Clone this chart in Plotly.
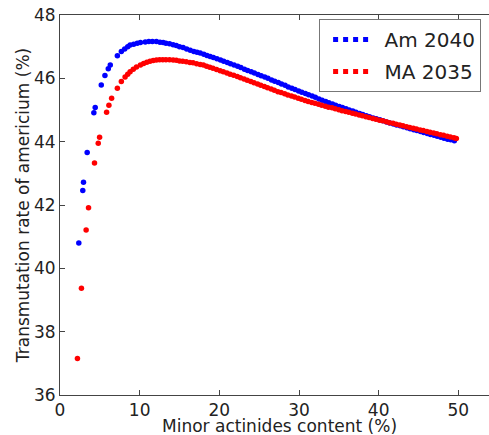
import plotly.graph_objects as go

# ---- data ----
am2040_x = [2.36, 2.86, 2.95, 3.41, 4.25, 4.42, 5.18, 5.64, 6.06, 6.31, 7.20, 7.70, 8.12, 8.50, 8.80,
            9.25, 9.70, 10.10, 10.70, 11.15, 11.60, 12.10, 12.55, 12.95, 13.30, 13.75, 14.20, 14.60,
            15.00, 15.45, 15.90, 16.35, 16.80, 17.20, 17.60, 18.05, 18.45, 18.85, 19.25, 19.70, 20.15,
            20.55, 21.00, 21.40, 21.85, 22.30, 22.70, 23.15, 23.55, 24.00, 24.40, 24.85, 25.25, 25.70,
            26.10, 26.55, 26.95, 27.40, 27.80, 28.25, 28.65, 29.10, 29.50, 29.95, 30.35, 30.80, 31.20,
            31.65, 32.05, 32.50, 32.90, 33.35, 33.75, 34.20, 34.60, 35.05, 35.45, 35.90, 36.30, 36.75,
            37.15, 37.60, 38.00, 38.45, 38.85, 39.30, 39.70, 40.15, 40.55, 41.00, 41.40, 41.85, 42.25,
            42.70, 43.10, 43.55, 43.95, 44.40, 44.80, 45.25, 45.65, 46.10, 46.50, 46.95, 47.35, 47.80,
            48.20, 48.65, 49.05, 49.50]
am2040_y = [40.80, 42.46, 42.72, 43.66, 44.91, 45.08, 45.79, 46.09, 46.30, 46.42, 46.71, 46.85, 46.93,
            47.00, 47.05, 47.08, 47.11, 47.13, 47.15, 47.16, 47.16, 47.16, 47.14, 47.13, 47.11, 47.09,
            47.06, 47.04, 47.00, 46.97, 46.93, 46.89, 46.85, 46.82, 46.80, 46.76, 46.72, 46.69, 46.66,
            46.62, 46.58, 46.54, 46.50, 46.46, 46.42, 46.38, 46.34, 46.29, 46.25, 46.21, 46.17, 46.12,
            46.08, 46.04, 46.00, 45.95, 45.91, 45.87, 45.82, 45.78, 45.73, 45.69, 45.65, 45.60, 45.56,
            45.52, 45.48, 45.44, 45.40, 45.35, 45.31, 45.27, 45.23, 45.19, 45.15, 45.11, 45.08, 45.04,
            45.00, 44.97, 44.93, 44.89, 44.86, 44.82, 44.79, 44.75, 44.72, 44.69, 44.66, 44.62, 44.59,
            44.56, 44.53, 44.50, 44.47, 44.44, 44.41, 44.38, 44.35, 44.32, 44.29, 44.26, 44.23, 44.20,
            44.17, 44.14, 44.11, 44.08, 44.06, 44.03]

ma2035_x = [2.19, 2.69, 3.28, 3.58, 4.33, 4.80, 4.97, 5.85, 6.14, 6.48, 7.20, 7.70, 8.17, 8.50, 8.80,
            9.20, 9.60, 10.10, 10.50, 10.90, 11.30, 11.70, 12.10, 12.50, 12.90, 13.30, 13.75, 14.20,
            14.60, 15.00, 15.40, 15.85, 16.30, 16.70, 17.15, 17.60, 18.00, 18.40, 18.80, 19.20, 19.65,
            20.10, 20.50, 20.95, 21.35, 21.80, 22.25, 22.65, 23.10, 23.50, 23.95, 24.35, 24.80, 25.20,
            25.65, 26.05, 26.50, 26.90, 27.35, 27.75, 28.20, 28.60, 29.05, 29.45, 29.90, 30.30, 30.75,
            31.15, 31.60, 32.00, 32.45, 32.85, 33.30, 33.70, 34.15, 34.55, 35.00, 35.40, 35.85, 36.25,
            36.70, 37.10, 37.55, 37.95, 38.40, 38.80, 39.25, 39.65, 40.10, 40.50, 40.95, 41.35, 41.80,
            42.20, 42.65, 43.05, 43.50, 43.90, 44.35, 44.75, 45.20, 45.60, 46.05, 46.45, 46.90, 47.30,
            47.75, 48.15, 48.60, 49.00, 49.45, 49.75]
ma2035_y = [37.15, 39.37, 41.21, 41.91, 43.33, 43.95, 44.14, 44.93, 45.15, 45.37, 45.69, 45.90, 46.04,
            46.13, 46.21, 46.29, 46.36, 46.42, 46.47, 46.51, 46.54, 46.56, 46.58, 46.59, 46.59, 46.59,
            46.59, 46.58, 46.57, 46.55, 46.54, 46.52, 46.50, 46.49, 46.46, 46.44, 46.42, 46.38, 46.35,
            46.32, 46.28, 46.24, 46.21, 46.17, 46.13, 46.10, 46.06, 46.02, 45.98, 45.94, 45.90, 45.86,
            45.82, 45.78, 45.74, 45.70, 45.66, 45.62, 45.58, 45.55, 45.51, 45.47, 45.44, 45.41, 45.37,
            45.34, 45.30, 45.27, 45.24, 45.21, 45.18, 45.15, 45.12, 45.09, 45.07, 45.04, 45.01, 44.98,
            44.95, 44.93, 44.90, 44.87, 44.84, 44.82, 44.79, 44.76, 44.73, 44.71, 44.68, 44.66, 44.63,
            44.60, 44.58, 44.55, 44.53, 44.50, 44.47, 44.45, 44.42, 44.40, 44.37, 44.35, 44.32, 44.30,
            44.27, 44.25, 44.22, 44.20, 44.17, 44.15, 44.12, 44.10]

x_ticks = [0, 10, 20, 30, 40, 50]
y_ticks = [36, 38, 40, 42, 44, 46, 48]
x_title = "Minor actinides content (%)"
y_title = "Transmutation rate of americium (%)"

series = [("Am 2040", am2040_x, am2040_y, "#0000ff"),
          ("MA 2035", ma2035_x, ma2035_y, "#ff0000")]

FONT = "DejaVu Sans"
fig = go.Figure()
for name, xs, ys, col in series:
    fig.add_trace(go.Scatter(x=xs, y=ys, mode="markers", name=name, showlegend=False,
                             marker=dict(color=col, size=5.5, line=dict(width=0))))
# legend-only entries (dotted look like matplotlib scatterpoints=3)
for name, xs, ys, col in series:
    fig.add_trace(go.Scatter(x=[None], y=[None], mode="lines", name="\u00a0" + name,
                             legendgroup=name,
                             line=dict(color=col, width=5, dash="dot")))

axis_common = dict(showgrid=False, zeroline=False, showline=True, linecolor="#444",
                   linewidth=1, ticks="inside", ticklen=5, tickcolor="#444", tickwidth=1,
                   automargin=False,
                   tickfont=dict(family=FONT, size=17, color="#222"))

fig.update_layout(
    width=489, height=435,
    margin=dict(l=60, r=0, t=15, b=40),
    plot_bgcolor="white", paper_bgcolor="white",
    font=dict(family=FONT, size=17, color="#222"),
    xaxis=dict(range=[0, 53.85], tickvals=x_ticks, mirror="ticks", **axis_common),
    yaxis=dict(range=[36, 48], tickvals=y_ticks, mirror=False, **axis_common),
    legend=dict(x=0.604, y=0.9895, xanchor="left", yanchor="top",
                bordercolor="#777", borderwidth=1, bgcolor="white",
                font=dict(family=FONT, size=20, color="#222"),
                itemwidth=40, tracegroupgap=3, indentation=8),
    annotations=[
        dict(text=x_title, xref="paper", yref="paper", x=0.5105, y=-0.0815,
             xanchor="center", yanchor="middle", showarrow=False,
             font=dict(family=FONT, size=17, color="#222")),
        dict(text=y_title, xref="paper", yref="paper", x=-0.0862, y=0.497,
             xanchor="center", yanchor="middle", textangle=-90, showarrow=False,
             font=dict(family=FONT, size=17, color="#222")),
    ],
)

fig.write_html("out.html", config={"displayModeBar": False},
               post_script="document.body.style.margin='0';document.body.style.overflow='hidden';")
